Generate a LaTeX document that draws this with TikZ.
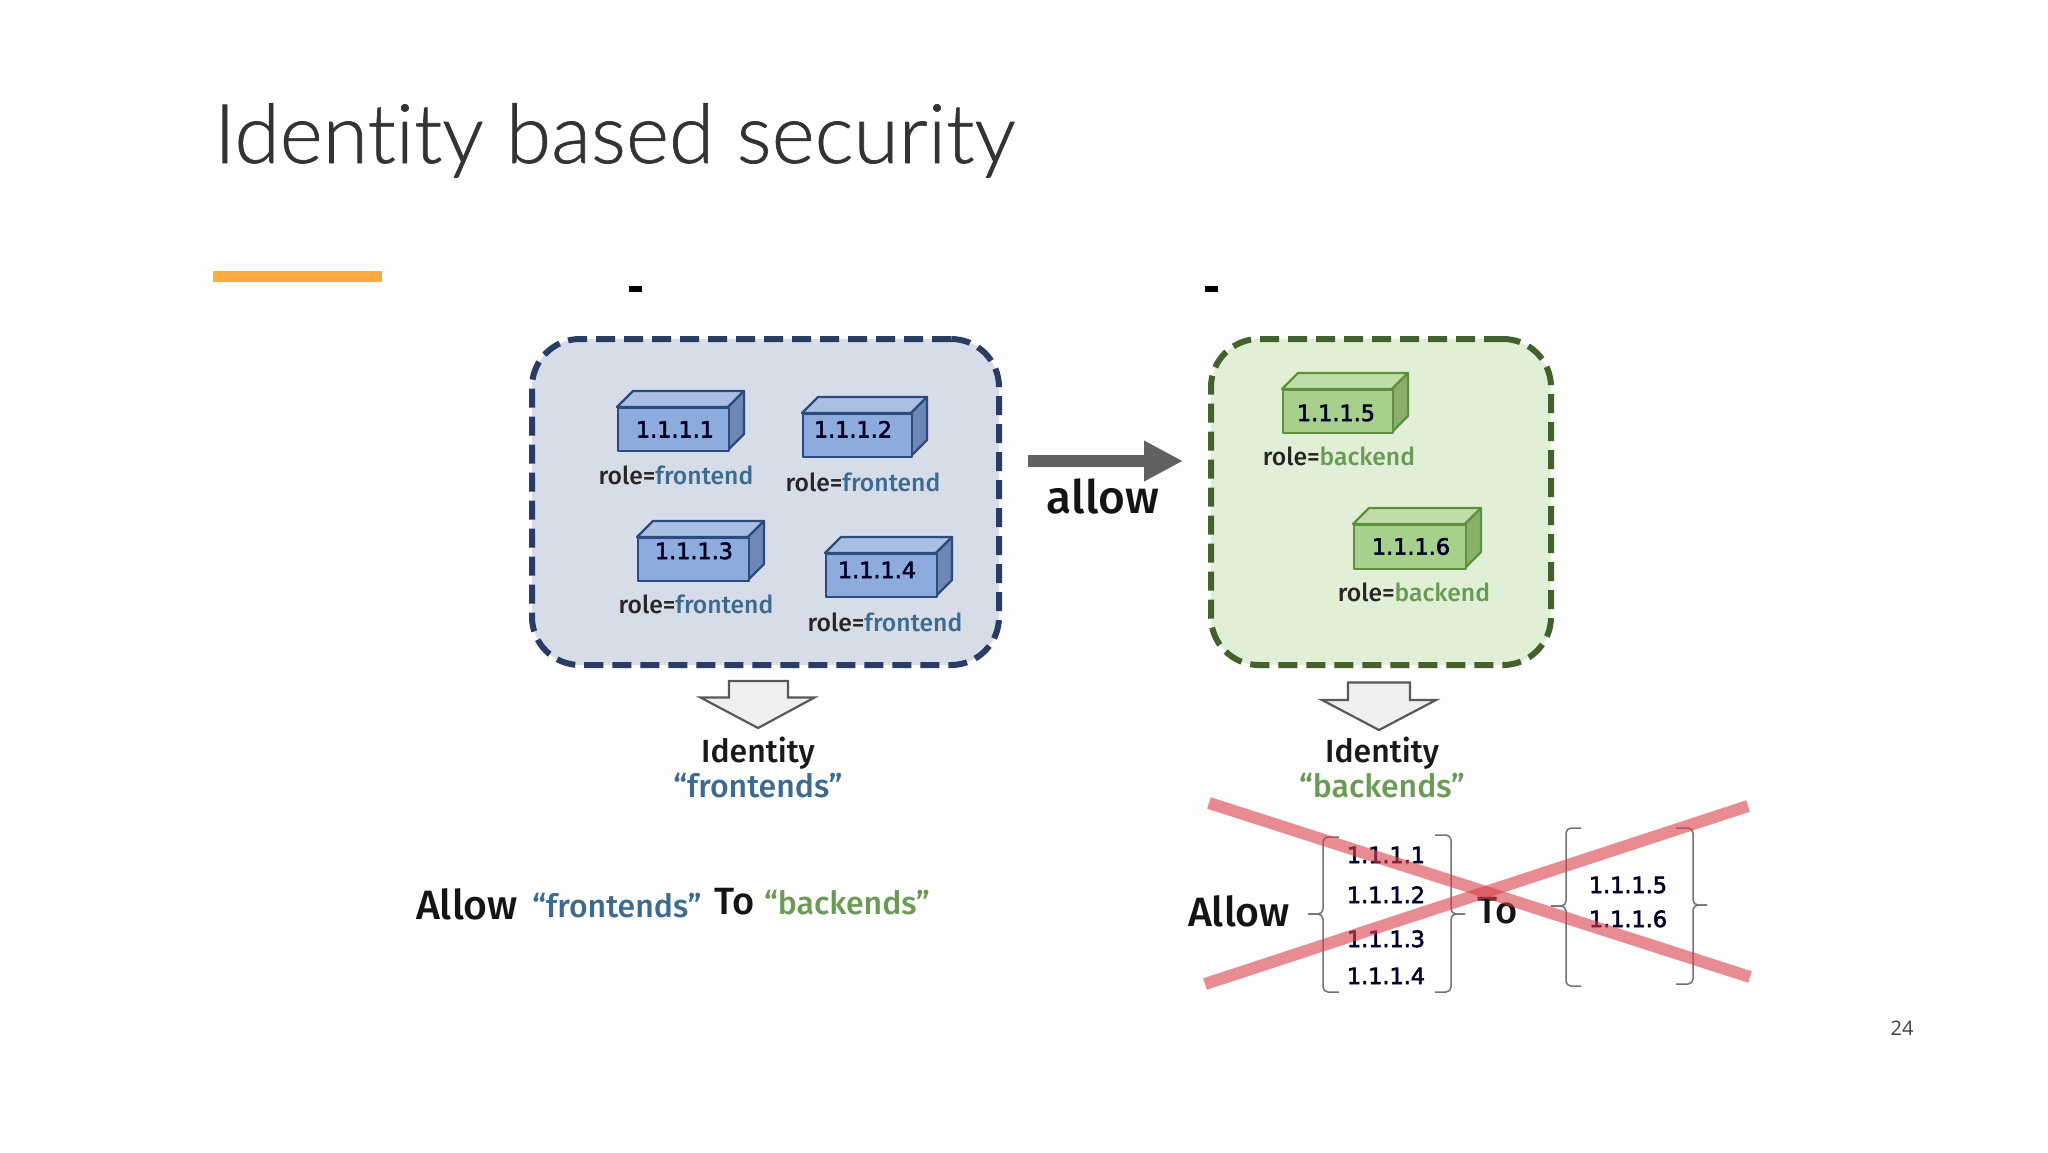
\documentclass[tikz,border=0pt]{standalone}
\usepackage{fontspec}
\setmainfont{Fira Sans}
\newfontfamily\medfont{Fira Sans Medium}[Ligatures=TeX]
\newfontfamily\titlefont{Lato Light}[Ligatures=NoCommon,FakeBold=0.8]
\newfontfamily\numfont{Open Sans}
\newfontfamily\ipfont{DejaVu Sans}[FakeBold=2.5]
\usetikzlibrary{arrows.meta}

\definecolor{bluefill}{HTML}{D6DCE8}
\definecolor{blueline}{HTML}{2A3C64}
\definecolor{srvblue}{HTML}{8DABDC}
\definecolor{srvbluetop}{HTML}{A9BFE3}
\definecolor{srvblueside}{HTML}{6F87B5}
\definecolor{srvblueline}{HTML}{2B4A7E}
\definecolor{fronttext}{HTML}{3D6B8F}
\definecolor{greenfill}{HTML}{E0EFD6}
\definecolor{greenline}{HTML}{44612D}
\definecolor{srvgreen}{HTML}{A8D08D}
\definecolor{srvgreentop}{HTML}{C0DDA8}
\definecolor{srvgreenside}{HTML}{8BB06E}
\definecolor{srvgreenline}{HTML}{5D9140}
\definecolor{backtext}{HTML}{6A9A55}
\definecolor{crossred}{HTML}{D9404A}
\definecolor{barorange}{HTML}{FFAB40}

\newcommand{\fsz}[1]{\fontsize{#1}{#1}\selectfont}
% server box: name, x, y (front top left), w, h, colour prefix
\newcommand{\srvbox}[6]{%
  \draw[srvedge,draw=#6line,fill=#6top] (#2,#3) -- ++(16,-16) -- ++(#4,0) -- ++(-16,16) -- cycle;
  \draw[srvedge,draw=#6line,fill=#6side] (#2+#4,#3) -- ++(16,-16) -- ++(0,#5) -- ++(-16,16) -- cycle;
  \node[srvedge,draw=#6line,fill=#6,minimum width=#4,minimum height=#5,anchor=north west,inner sep=0] (#1) at (#2,#3) {};
}
% hollow arrow: shaft left, shaft right, top, shoulder, wing left, wing right, tip x, tip y
\newcommand{\hollowdown}[8]{%
  \draw[hollow] (#1,#3) -- (#2,#3) -- (#2,#4) -- (#6,#4) -- (#7,#8) -- (#5,#4) -- (#1,#4) -- cycle;
}

\begin{document}
\begin{tikzpicture}[x=1pt,y=-1pt,
  srvedge/.style={line width=2.2pt,line join=round},
  ip/.style={anchor=base,inner sep=0,font=\ipfont\fsz{22.3},text=black!85!blue},
  role/.style={anchor=base,inner sep=0,font=\medfont\fsz{24.7},text=black!85},
  ident/.style={anchor=base,inner sep=0,font=\medfont\fsz{32},text=black!90},
  group/.style={rectangle,rounded corners=48pt,line width=6pt,dash pattern=on 19pt off 9pt,inner sep=0},
  hollow/.style={draw=black!65,fill=black!6,line width=2.2pt,line join=miter},
  brk/.style={draw=black!55,line width=1.5pt,rounded corners=5pt},
  cross/.style={draw=crossred,line width=12pt,opacity=.6},
  big/.style={anchor=base,inner sep=0,font=\medfont\fsz{41},text=black!92},
  quoted/.style={anchor=base,inner sep=0,font=\medfont\fsz{32}}]
\useasboundingbox (0,0) rectangle (2048,1152);
\fill[white] (0,0) rectangle (2048,1152);
\fill[black!0.3] (385,280) rectangle (1790,1152);
\fill[black!0.8] (496,310) rectangle (1600,829);

% title
\node[anchor=base west,inner sep=0,font=\titlefont\fsz{82.3},text=black!80] (title) at (214,163) {Identity based security};
\fill[barorange] (213,271) rectangle (382,282);

% cropped text above the picture
\node[fill=black,minimum width=13pt,minimum height=6pt,inner sep=0] (markA) at (635,289) {};
\node[fill=black,minimum width=13pt,minimum height=6pt,inner sep=0] (markB) at (1211,289) {};

% groups
\node[group,draw=blueline,fill=bluefill,minimum width=467pt,minimum height=326pt] (blue) at (765.5,502) {};
\node[group,draw=greenline,fill=greenfill,minimum width=340pt,minimum height=326pt] (green) at (1381,502) {};

% frontend servers
\srvbox{s1}{617}{407}{111}{43}{srvblue}
\srvbox{s2}{802}{413}{109}{43}{srvblue}
\srvbox{s3}{637}{537}{111}{43}{srvblue}
\srvbox{s4}{825}{553}{111}{43}{srvblue}
\node[ip] (ip1) at (675,437.5) {1.1.1.1};
\node[ip] (ip2) at (853,437.5) {1.1.1.2};
\node[ip] (ip3) at (694,559) {1.1.1.3};
\node[ip] (ip4) at (877,578) {1.1.1.4};
\node[role] (r1) at (676,484) {role=\textcolor{fronttext}{frontend}};
\node[role] (r2) at (863,491.4) {role=\textcolor{fronttext}{frontend}};
\node[role] (r3) at (696,613.6) {role=\textcolor{fronttext}{frontend}};
\node[role] (r4) at (885,631.4) {role=\textcolor{fronttext}{frontend}};

% backend servers
\srvbox{s5}{1282}{389}{110}{43}{srvgreen}
\srvbox{s6}{1353}{524}{112}{44}{srvgreen}
\node[ip] (ip5) at (1336,421) {1.1.1.5};
\node[ip] (ip6) at (1411,554.6) {1.1.1.6};
\node[role] (r5) at (1339,465.4) {role=\textcolor{backtext}{backend}};
\node[role] (r6) at (1414,601) {role=\textcolor{backtext}{backend}};

% allow arrow
\coordinate (allowS) at (1028,461);
\coordinate (allowE) at (1183,461);
\draw[draw=black!62,line width=12pt,-{Triangle[length=39pt,width=38pt]}] (allowS) -- (allowE);
\node[anchor=base,inner sep=0,font=\medfont\fsz{46},text=black!92] (allow) at (1103,513) {allow};

% identities
\hollowdown{729}{788}{681}{697.5}{700.5}{814.5}{758}{728}
\hollowdown{1348}{1410}{682.5}{700}{1322}{1436}{1379}{730}
\node[ident] (idA) at (758,762) {Identity};
\node[ident] (idB) at (1382,762) {Identity};
\node[quoted,text=fronttext] (qA) at (758,797.5) {“frontends”};
\node[quoted,text=backtext] (qB) at (1382,797.5) {“backends”};

% left policy
\node[big] (allowA) at (467,919) {Allow};
\node[quoted,text=fronttext] (allowF) at (617,917) {“frontends”};
\node[big,font=\medfont\fsz{38}] (toA) at (735,914) {To};
\node[quoted,text=backtext] (allowB) at (847,914) {“backends”};

% right policy
\node[big] (allowC) at (1239,926) {Allow};
\node[big,font=\medfont\fsz{38}] (toB) at (1498,923) {To};
\node[ip] (c1) at (1386,863) {1.1.1.1};
\node[ip] (c2) at (1386,903) {1.1.1.2};
\node[ip] (c3) at (1386,947) {1.1.1.3};
\node[ip] (c4) at (1386,984) {1.1.1.4};
\node[ip] (c5) at (1628,893) {1.1.1.5};
\node[ip] (c6) at (1628,927) {1.1.1.6};
\draw[brk] (1339,837) -- (1323,837) -- (1323,914) -- (1308,914);
\draw[brk] (1308,914) -- (1323,914) -- (1323,992) -- (1339,992);
\draw[brk] (1435,835) -- (1451,835) -- (1451,914) -- (1465,914);
\draw[brk] (1465,914) -- (1451,914) -- (1451,992) -- (1435,992);
\draw[brk] (1581,828) -- (1566,828) -- (1566,906) -- (1551,906);
\draw[brk] (1551,906) -- (1566,906) -- (1566,986) -- (1581,986);
\draw[brk] (1676,828) -- (1693,828) -- (1693,905) -- (1707,905);
\draw[brk] (1707,905) -- (1693,905) -- (1693,984) -- (1676,984);

% cross
\coordinate (xa) at (1209,803);
\coordinate (xb) at (1750,977);
\coordinate (xc) at (1205,984);
\coordinate (xd) at (1748,806);
\draw[cross] (xa) -- (xb);
\draw[cross] (xc) -- (xd);

% page number
\node[anchor=base,inner sep=0,font=\numfont\fsz{20},text=black!75] (page) at (1902,1035) {24};
\end{tikzpicture}
\end{document}
